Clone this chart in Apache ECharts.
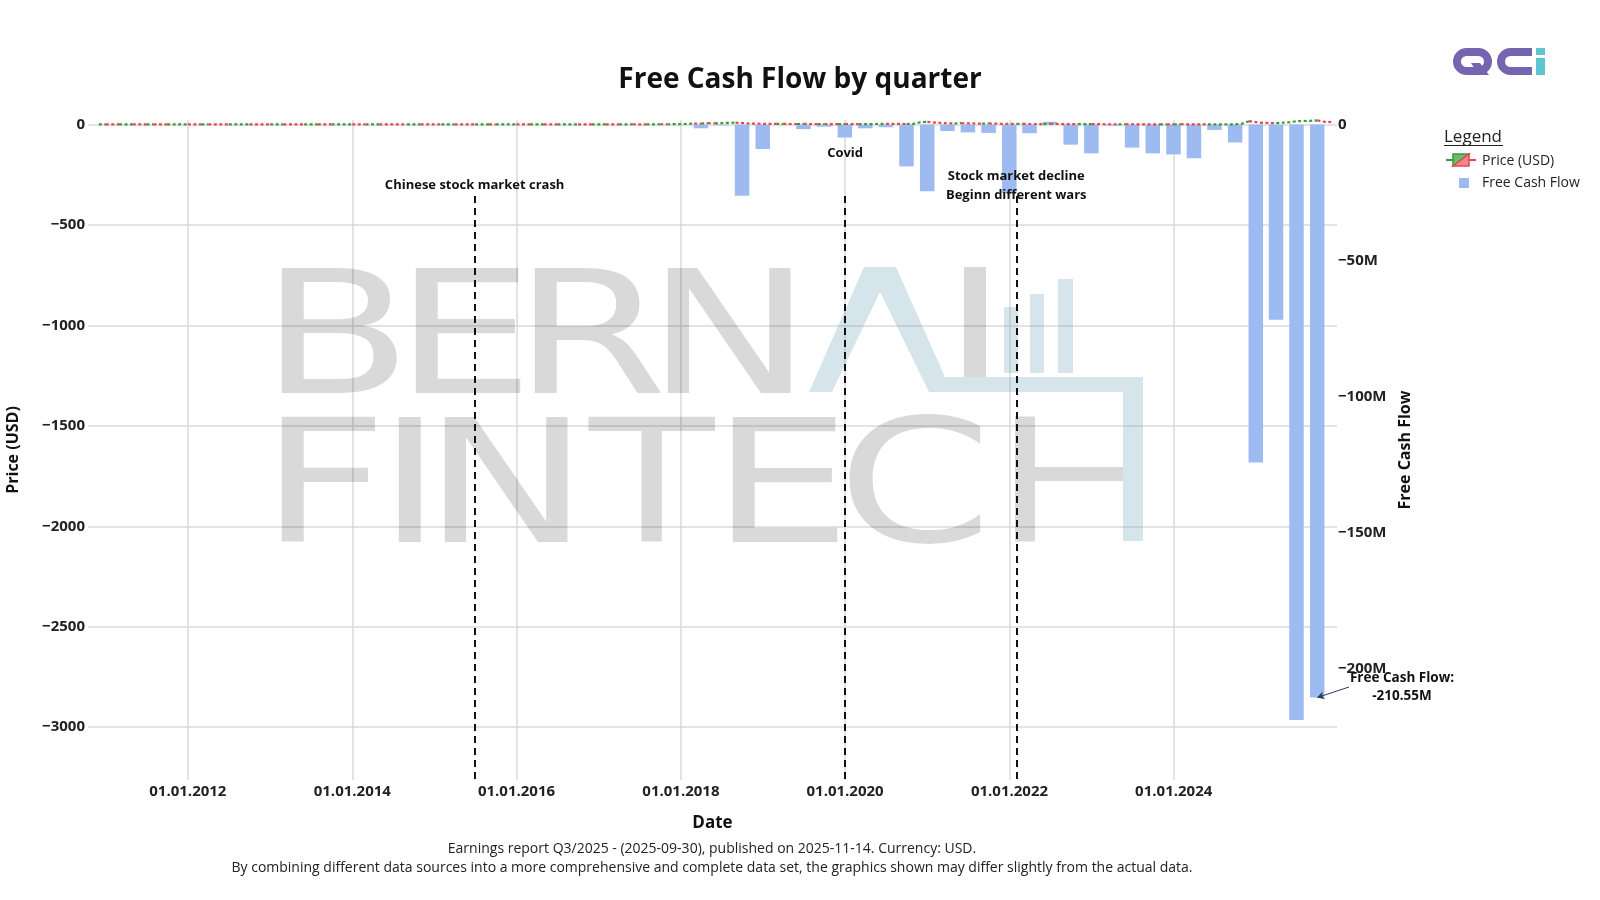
<!DOCTYPE html>
<html>
<head>
<meta charset="utf-8">
<title>Free Cash Flow by quarter</title>
<script src="https://cdn.jsdelivr.net/npm/echarts@6/dist/echarts.min.js"></script>
<style>
  html, body { margin: 0; padding: 0; background: #fff; }
  #chart { width: 1600px; height: 900px; }
</style>
</head>
<body>
<div id="chart"></div>
<script>
// quarterly free cash flow, USD millions
var fcfQuarters = [
  '2018-03-31', '2018-06-30', '2018-09-30', '2018-12-31',
  '2019-03-31', '2019-06-30', '2019-09-30', '2019-12-31',
  '2020-03-31', '2020-06-30', '2020-09-30', '2020-12-31',
  '2021-03-31', '2021-06-30', '2021-09-30', '2021-12-31',
  '2022-03-31', '2022-06-30', '2022-09-30', '2022-12-31',
  '2023-03-31', '2023-06-30', '2023-09-30', '2023-12-31',
  '2024-03-31', '2024-06-30', '2024-09-30', '2024-12-31',
  '2025-03-31', '2025-06-30', '2025-09-30'
];
var fcfValues = [
  -1.4, -0.3, -26.2, -9.0,
  -0.2, -1.7, -0.8, -4.8,
  -1.4, -1.0, -15.4, -24.5,
  -2.4, -2.9, -3.1, -25.2,
  -3.2, 1.0, -7.4, -10.6,
  -0.4, -8.5, -10.6, -11.0,
  -12.4, -2.0, -6.6, -124.2,
  -71.7, -218.8, -210.55
];

// monthly price (USD), first value is 2010-12
var priceFirstYear = 2010, priceFirstMonth = 12;
var priceValues = [
  0.9,
  1.0, 0.8, 0.7, 0.9, 1.1, 1.0, 0.8, 0.9, 0.7, 0.6, 0.8, 0.9,   // 2011
  1.0, 0.8, 0.7, 0.9, 0.8, 0.6, 0.5, 0.7, 0.8, 0.9, 0.7, 0.6,   // 2012
  0.5, 0.6, 0.8, 0.7, 0.5, 0.4, 0.6, 0.7, 0.6, 0.5, 0.7, 0.8,   // 2013
  0.9, 0.7, 0.6, 0.8, 1.0, 0.9, 0.7, 0.6, 0.5, 0.7, 0.8, 0.6,   // 2014
  0.5, 0.4, 0.6, 0.7, 0.5, 0.4, 0.3, 0.5, 0.6, 0.4, 0.5, 0.6,   // 2015
  0.7, 0.5, 0.4, 0.6, 0.8, 0.7, 0.5, 0.6, 0.8, 0.9, 0.7, 0.6,   // 2016
  0.8, 1.0, 0.9, 0.7, 0.9, 1.2, 1.0, 0.8, 1.1, 1.3, 1.2, 1.5,   // 2017
  2.0, 3.5, 5.0, 4.2, 6.5, 5.8, 7.2, 8.5, 9.1, 7.4, 5.0, 4.2,   // 2018
  3.5, 3.0, 2.8, 3.2, 2.6, 2.4, 2.9, 2.5, 2.2, 2.6, 2.3, 2.1,   // 2019
  2.4, 2.2, 1.6, 2.0, 2.3, 2.8, 3.4, 3.0, 2.7, 2.5, 3.6, 11.0,  // 2020
  13.0, 9.8, 8.0, 6.0, 5.1, 6.8, 5.5, 5.0, 4.6, 5.2, 4.1, 3.5,  // 2021
  3.2, 2.9, 3.5, 2.6, 2.4, 2.1, 2.8, 2.5, 1.9, 1.7, 1.6, 1.9,   // 2022
  2.1, 1.7, 1.3, 1.2, 1.0, 1.4, 1.2, 1.0, 0.9, 0.8, 0.7, 0.9,   // 2023
  0.8, 1.4, 0.9, 0.7, 0.6, 0.5, 0.6, 0.7, 0.8, 1.0, 4.5, 16.5,  // 2024
  12.0, 7.8, 7.5, 6.6, 9.3, 11.9, 16.0, 17.5, 18.4, 20.5, 13.5, 12.0 // 2025
];

var xTickLabels = ['2012-01-01', '2014-01-01', '2016-01-01', '2018-01-01', '2020-01-01', '2022-01-01', '2024-01-01'];
var priceTicks = [0, -500, -1000, -1500, -2000, -2500, -3000];
var fcfTicks = [0, -50, -100, -150, -200]; // millions

var eventDates = ['2015-06-29', '2020-01-01', '2022-01-31'];
var eventTexts = ['Chinese stock market crash', 'Covid', 'Stock market decline\nBeginn different wars'];

var BAR = '#9dbbf1';
var GREEN = '#3b9b3b';
var RED = '#e5474b';
var WM_GRAY = 'rgba(0,0,0,0.15)';
var WM_BLUE = 'rgba(120,170,190,0.30)';
var FONT = 'Open Sans';

function ts(s) { return Date.parse(s + 'T00:00:00Z'); }
function pad(n) { return n < 10 ? '0' + n : '' + n; }
var priceDates = priceValues.map(function (v, i) {
  var m = priceFirstMonth - 1 + i;
  return ts((priceFirstYear + Math.floor(m / 12)) + '-' + pad(m % 12 + 1) + '-01');
});

// split the price line into rising (green) and falling (red) runs
function priceRuns(up) {
  var out = [], last = -1;
  for (var i = 0; i < priceValues.length - 1; i++) {
    var rising = priceValues[i + 1] >= priceValues[i];
    if (rising !== up) continue;
    if (last !== i) {
      if (out.length) out.push([priceDates[i], null]);
      out.push([priceDates[i], priceValues[i]]);
    }
    out.push([priceDates[i + 1], priceValues[i + 1]]);
    last = i + 1;
  }
  return out;
}

var fcfData = fcfQuarters.map(function (d, i) { return [ts(d), fcfValues[i] * 1e6]; });
var lastIdx = fcfQuarters.length - 1;

var eventLabelY = [-305, -142, -305];
var eventTop = -356, priceMin = -3263, priceMax = 22.4;

function minus(v) { return v < 0 ? '\u2212' + Math.abs(v) : '' + v; }
function ddmmyyyy(v) {
  var d = new Date(v);
  return pad(d.getUTCDate()) + '.' + pad(d.getUTCMonth() + 1) + '.' + d.getUTCFullYear();
}

var xTicks = xTickLabels.map(ts);

// watermark letter: x = left of glyph box, base = baseline
function wmLetter(ch, x, base, sx) {
  return {
    type: 'text', x: x, y: base - 129.3, z: 1, scaleX: sx || 1.3, silent: true,
    style: { text: ch, fontFamily: 'DejaVu Sans', fontSize: 171, fill: WM_GRAY, verticalAlign: 'top' }
  };
}

var chart = echarts.init(document.getElementById('chart'));
chart.setOption({
  animation: false,
  backgroundColor: '#fff',
  title: {
    text: 'Free Cash Flow by quarter',
    left: 'center',
    top: 61,
    textStyle: { fontFamily: FONT, fontWeight: 'bold', fontSize: 28, color: '#111' }
  },
  grid: { left: 88, right: 263, top: 120, bottom: 120, outerBoundsMode: 'none' },
  xAxis: {
    type: 'value',
    min: ts('2010-10-14'),
    max: ts('2025-12-27'),
    name: 'Date',
    nameLocation: 'middle',
    nameGap: 35,
    nameTextStyle: { fontFamily: FONT, fontWeight: 'bold', fontSize: 17, color: '#111' },
    axisLine: { show: false },
    axisTick: { show: false, customValues: xTicks },
    axisLabel: {
      customValues: xTicks,
      margin: 4,
      fontFamily: FONT, fontWeight: 'bold', fontSize: 15, color: '#222',
      formatter: ddmmyyyy
    },
    splitLine: { show: true, lineStyle: { color: '#dadada', width: 1.5 } }
  },
  yAxis: [{
    type: 'value',
    position: 'left',
    min: priceMin,
    max: priceMax,
    name: 'Price (USD)',
    nameLocation: 'middle',
    nameRotate: 90,
    nameGap: 67,
    nameTextStyle: { fontFamily: FONT, fontWeight: 'bold', fontSize: 16, color: '#111' },
    axisLine: { show: false },
    axisTick: { show: false, customValues: priceTicks },
    axisLabel: {
      customValues: priceTicks,
      margin: 3,
      fontFamily: FONT, fontWeight: 'bold', fontSize: 15, color: '#222',
      formatter: minus
    },
    splitLine: { show: true, lineStyle: { color: '#dadada', width: 1.5 } }
  }, {
    type: 'value',
    position: 'right',
    min: -240.85e6,
    max: 1.655e6,
    name: 'Free Cash Flow',
    nameLocation: 'middle',
    nameRotate: 90,
    nameGap: 48,
    nameTextStyle: { fontFamily: FONT, fontWeight: 'bold', fontSize: 16, color: '#111' },
    axisLine: { show: false },
    axisTick: { show: false, customValues: fcfTicks.map(function (t) { return t * 1e6; }) },
    axisLabel: {
      customValues: fcfTicks.map(function (t) { return t * 1e6; }),
      margin: 1,
      fontFamily: FONT, fontWeight: 'bold', fontSize: 15, color: '#222',
      formatter: function (v) { return v === 0 ? '0' : '\u2212' + Math.round(Math.abs(v) / 1e6) + 'M'; }
    },
    splitLine: { show: false }
  }],
  series: [{
    name: 'Free Cash Flow',
    type: 'bar',
    yAxisIndex: 1,
    barWidth: 14.5,
    z: 2,
    itemStyle: { color: BAR },
    data: fcfData,
    markLine: {
      silent: true,
      symbol: ['none', 'arrow'],
      symbolSize: [6, 7],
      label: { show: false },
      lineStyle: { color: '#2a3f5f', width: 1, type: 'solid' },
      data: [[{ x: 1349, y: 687 }, { coord: [ts(fcfQuarters[lastIdx]), fcfValues[lastIdx] * 1e6] }]]
    }
  }, {
    name: 'Price (USD)',
    type: 'line',
    yAxisIndex: 0,
    z: 3,
    showSymbol: false,
    connectNulls: false,
    lineStyle: { color: GREEN, width: 2.2, type: [3, 2.5] },
    data: priceRuns(true)
  }, {
    name: 'Price (USD) down',
    type: 'line',
    yAxisIndex: 0,
    z: 3,
    showSymbol: false,
    connectNulls: false,
    lineStyle: { color: RED, width: 2.2, type: [3, 2.5] },
    data: priceRuns(false)
  }, {
    name: 'events',
    type: 'line',
    yAxisIndex: 0,
    data: [],
    markLine: {
      silent: true,
      symbol: 'none',
      z: 5,
      label: { show: false },
      lineStyle: { color: '#111', width: 2, type: [7, 5] },
      data: eventDates.map(function (d) {
        return [{ coord: [ts(d), eventTop] }, { coord: [ts(d), priceMin] }];
      })
    },
    markPoint: {
      silent: true,
      symbol: 'rect',
      symbolSize: 1,
      z: 6,
      itemStyle: { color: 'rgba(0,0,0,0)' },
      label: {
        show: true,
        position: 'inside',
        fontFamily: FONT, fontWeight: 'bold', fontSize: 13, lineHeight: 18.5, color: '#111',
        formatter: function (p) { return p.name; }
      },
      data: eventDates.map(function (d, i) {
        return { name: eventTexts[i], coord: [ts(d), eventLabelY[i]] };
      })
    }
  }],
  graphic: [
    // watermark
    wmLetter('B', 260, 392), wmLetter('E', 394, 392), wmLetter('R', 513, 392), wmLetter('N', 646, 392),
    { type: 'rect', z: 1, silent: true, shape: { x: 964, y: 267, width: 22, height: 110 }, style: { fill: WM_GRAY } },
    wmLetter('F', 260, 541.5), wmLetter('I', 377, 541.5), wmLetter('N', 423, 541.5), wmLetter('T', 589, 541.5, 1.2),
    wmLetter('E', 711, 541.5), wmLetter('C', 837, 541.5),
    { type: 'rect', z: 1, silent: true, shape: { x: 1015, y: 416.5, width: 20, height: 125 }, style: { fill: WM_GRAY } },
    { type: 'rect', z: 1, silent: true, shape: { x: 1035, y: 467, width: 88, height: 14 }, style: { fill: WM_GRAY } },
    { type: 'polygon', z: 1, silent: true,
      shape: { points: [[809, 392], [864, 267], [896, 267], [945, 377], [1143, 377], [1143, 541], [1123, 541], [1123, 392], [929, 392], [880, 292], [832, 392]] },
      style: { fill: WM_BLUE } },
    { type: 'rect', z: 1, silent: true, shape: { x: 1004, y: 307, width: 14, height: 66 }, style: { fill: WM_BLUE } },
    { type: 'rect', z: 1, silent: true, shape: { x: 1030, y: 294, width: 14, height: 79 }, style: { fill: WM_BLUE } },
    { type: 'rect', z: 1, silent: true, shape: { x: 1058, y: 279, width: 15, height: 94 }, style: { fill: WM_BLUE } },

    // logo
    { type: 'rect', shape: { x: 1457, y: 52, width: 31, height: 19, r: 9.5 }, style: { fill: null, stroke: '#7565b1', lineWidth: 8 } },
    { type: 'polygon', shape: { points: [[1471, 63], [1480, 63], [1489, 75], [1479, 75]] }, style: { fill: '#7565b1' } },
    { type: 'arc', shape: { cx: 1510.5, cy: 61.5, r: 9.5, startAngle: Math.PI / 2, endAngle: Math.PI * 1.5, clockwise: true }, style: { fill: null, stroke: '#7565b1', lineWidth: 8 } },
    { type: 'line', shape: { x1: 1510, y1: 52, x2: 1532, y2: 52 }, style: { stroke: '#7565b1', lineWidth: 8 } },
    { type: 'line', shape: { x1: 1510, y1: 71, x2: 1532, y2: 71 }, style: { stroke: '#7565b1', lineWidth: 8 } },
    { type: 'rect', shape: { x: 1536, y: 48, width: 9, height: 7 }, style: { fill: '#5ec5d0' } },
    { type: 'rect', shape: { x: 1536, y: 58, width: 9, height: 17 }, style: { fill: '#5ec5d0' } },

    // legend
    { type: 'text', x: 1444, y: 137, style: { text: 'Legend', fontFamily: FONT, fontSize: 17, fill: '#222', verticalAlign: 'middle' } },
    { type: 'line', shape: { x1: 1444, y1: 145.5, x2: 1503, y2: 145.5 }, style: { stroke: '#222', lineWidth: 1.2 } },
    { type: 'line', shape: { x1: 1446, y1: 160, x2: 1453, y2: 160 }, style: { stroke: GREEN, lineWidth: 2 } },
    { type: 'line', shape: { x1: 1469, y1: 160, x2: 1476, y2: 160 }, style: { stroke: RED, lineWidth: 2 } },
    { type: 'polygon', shape: { points: [[1453, 154], [1469, 154], [1453, 166]] }, style: { fill: '#6dbb6d', stroke: GREEN, lineWidth: 1.5 } },
    { type: 'polygon', shape: { points: [[1469, 154], [1469, 166], [1453, 166]] }, style: { fill: '#f08a8a', stroke: RED, lineWidth: 1.5 } },
    { type: 'text', x: 1482, y: 161, style: { text: 'Price (USD)', fontFamily: FONT, fontSize: 14, fill: '#222', verticalAlign: 'middle' } },
    { type: 'rect', shape: { x: 1459, y: 178, width: 10, height: 10 }, style: { fill: BAR } },
    { type: 'text', x: 1482, y: 183, style: { text: 'Free Cash Flow', fontFamily: FONT, fontSize: 14, fill: '#222', verticalAlign: 'middle' } },

    // last value note
    { type: 'text', x: 1402, y: 687, z: 10, style: { text: 'Free Cash Flow:\n-210.55M', fontFamily: FONT, fontWeight: 'bold', fontSize: 13.5, lineHeight: 18.5, fill: '#111', align: 'center', verticalAlign: 'middle' } },

    // footer
    { type: 'text', x: 712, y: 849, style: { text: 'Earnings report Q3/2025 - (2025-09-30), published on 2025-11-14. Currency: USD.', fontFamily: FONT, fontSize: 14, fill: '#222', align: 'center', verticalAlign: 'middle' } },
    { type: 'text', x: 712, y: 868.5, style: { text: 'By combining different data sources into a more comprehensive and complete data set, the graphics shown may differ slightly from the actual data.', fontFamily: FONT, fontSize: 14, fill: '#222', align: 'center', verticalAlign: 'middle' } }
  ]
});
</script>
</body>
</html>
